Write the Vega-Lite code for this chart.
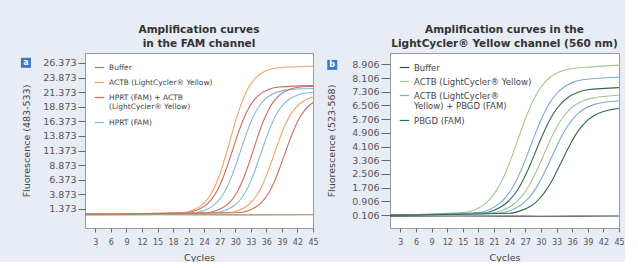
{
"$schema": "https://vega.github.io/schema/vega-lite/v6.json",
"background": "#e8ecf4",
"padding": {"left": 20, "top": 24, "right": 0, "bottom": 0},
"spacing": 6,
"resolve": {"scale": {"x": "independent", "y": "independent", "color": "independent"}, "legend": {"color": "independent"}},
"config": {
 "font": "DejaVu Sans",
 "view": {"fill": "white", "stroke": "#9a9a9a", "strokeWidth": 1},
 "axis": {"labelColor": "#555", "titleColor": "#444", "titleFontWeight": "normal", "tickColor": "#666", "domain": false, "grid": false, "tickCount": 50, "labelOverlap": false},
 "axisX": {"labelFontSize": 8, "tickSize": 4, "labelPadding": 6, "titleFontSize": 9.5, "titlePadding": 6, "labelFlush": false},
 "axisY": {"labelFontSize": 9.5, "tickSize": 7, "labelPadding": 2, "titleFontSize": 9.5},
 "title": {"fontSize": 10.5, "fontWeight": "bold", "color": "#333", "lineHeight": 14, "offset": 4, "anchor": "middle"},
 "legend": {"orient": "top-left", "title": null, "offset": 9, "padding": 0, "symbolType": "stroke", "symbolSize": 90, "symbolStrokeWidth": 1.2, "rowPadding": 6, "labelColor": "#444", "labelLimit": 300}
},
"datasets": {
 "fam": [
  {"c":1,"v":0.5,"s":"ACTB (LightCycler® Yellow)","id":"L1"},{"c":20,"v":0.78,"s":"ACTB (LightCycler® Yellow)","id":"L1"},{"c":22,"v":1.23,"s":"ACTB (LightCycler® Yellow)","id":"L1"},{"c":24,"v":2.42,"s":"ACTB (LightCycler® Yellow)","id":"L1"},{"c":25,"v":3.51,"s":"ACTB (LightCycler® Yellow)","id":"L1"},{"c":26,"v":5.1,"s":"ACTB (LightCycler® Yellow)","id":"L1"},{"c":27,"v":7.31,"s":"ACTB (LightCycler® Yellow)","id":"L1"},{"c":28,"v":10.06,"s":"ACTB (LightCycler® Yellow)","id":"L1"},{"c":29,"v":13.15,"s":"ACTB (LightCycler® Yellow)","id":"L1"},{"c":30,"v":16.24,"s":"ACTB (LightCycler® Yellow)","id":"L1"},{"c":31,"v":18.99,"s":"ACTB (LightCycler® Yellow)","id":"L1"},{"c":32,"v":21.2,"s":"ACTB (LightCycler® Yellow)","id":"L1"},{"c":33,"v":22.79,"s":"ACTB (LightCycler® Yellow)","id":"L1"},{"c":34,"v":23.88,"s":"ACTB (LightCycler® Yellow)","id":"L1"},{"c":36,"v":25.07,"s":"ACTB (LightCycler® Yellow)","id":"L1"},{"c":38,"v":25.52,"s":"ACTB (LightCycler® Yellow)","id":"L1"},{"c":45,"v":25.8,"s":"ACTB (LightCycler® Yellow)","id":"L1"},
  {"c":1,"v":0.5,"s":"HPRT (FAM) + ACTB (LightCycler® Yellow)","id":"L2"},{"c":20.5,"v":0.74,"s":"HPRT (FAM) + ACTB (LightCycler® Yellow)","id":"L2"},{"c":22.5,"v":1.14,"s":"HPRT (FAM) + ACTB (LightCycler® Yellow)","id":"L2"},{"c":24.5,"v":2.17,"s":"HPRT (FAM) + ACTB (LightCycler® Yellow)","id":"L2"},{"c":25.5,"v":3.12,"s":"HPRT (FAM) + ACTB (LightCycler® Yellow)","id":"L2"},{"c":26.5,"v":4.5,"s":"HPRT (FAM) + ACTB (LightCycler® Yellow)","id":"L2"},{"c":27.5,"v":6.42,"s":"HPRT (FAM) + ACTB (LightCycler® Yellow)","id":"L2"},{"c":28.5,"v":8.82,"s":"HPRT (FAM) + ACTB (LightCycler® Yellow)","id":"L2"},{"c":29.5,"v":11.5,"s":"HPRT (FAM) + ACTB (LightCycler® Yellow)","id":"L2"},{"c":30.5,"v":14.18,"s":"HPRT (FAM) + ACTB (LightCycler® Yellow)","id":"L2"},{"c":31.5,"v":16.58,"s":"HPRT (FAM) + ACTB (LightCycler® Yellow)","id":"L2"},{"c":32.5,"v":18.5,"s":"HPRT (FAM) + ACTB (LightCycler® Yellow)","id":"L2"},{"c":33.5,"v":19.88,"s":"HPRT (FAM) + ACTB (LightCycler® Yellow)","id":"L2"},{"c":34.5,"v":20.83,"s":"HPRT (FAM) + ACTB (LightCycler® Yellow)","id":"L2"},{"c":36.5,"v":21.86,"s":"HPRT (FAM) + ACTB (LightCycler® Yellow)","id":"L2"},{"c":38.5,"v":22.26,"s":"HPRT (FAM) + ACTB (LightCycler® Yellow)","id":"L2"},{"c":45,"v":22.5,"s":"HPRT (FAM) + ACTB (LightCycler® Yellow)","id":"L2"},
  {"c":1,"v":0.5,"s":"HPRT (FAM)","id":"L3"},{"c":22,"v":0.74,"s":"HPRT (FAM)","id":"L3"},{"c":24,"v":1.12,"s":"HPRT (FAM)","id":"L3"},{"c":26,"v":2.13,"s":"HPRT (FAM)","id":"L3"},{"c":27,"v":3.06,"s":"HPRT (FAM)","id":"L3"},{"c":28,"v":4.41,"s":"HPRT (FAM)","id":"L3"},{"c":29,"v":6.28,"s":"HPRT (FAM)","id":"L3"},{"c":30,"v":8.63,"s":"HPRT (FAM)","id":"L3"},{"c":31,"v":11.25,"s":"HPRT (FAM)","id":"L3"},{"c":32,"v":13.87,"s":"HPRT (FAM)","id":"L3"},{"c":33,"v":16.22,"s":"HPRT (FAM)","id":"L3"},{"c":34,"v":18.09,"s":"HPRT (FAM)","id":"L3"},{"c":35,"v":19.44,"s":"HPRT (FAM)","id":"L3"},{"c":36,"v":20.37,"s":"HPRT (FAM)","id":"L3"},{"c":38,"v":21.38,"s":"HPRT (FAM)","id":"L3"},{"c":40,"v":21.76,"s":"HPRT (FAM)","id":"L3"},{"c":45,"v":22.0,"s":"HPRT (FAM)","id":"L3"},
  {"c":1,"v":0.5,"s":"HPRT (FAM) + ACTB (LightCycler® Yellow)","id":"L4"},{"c":24.5,"v":0.74,"s":"HPRT (FAM) + ACTB (LightCycler® Yellow)","id":"L4"},{"c":26.5,"v":1.14,"s":"HPRT (FAM) + ACTB (LightCycler® Yellow)","id":"L4"},{"c":28.5,"v":2.17,"s":"HPRT (FAM) + ACTB (LightCycler® Yellow)","id":"L4"},{"c":29.5,"v":3.12,"s":"HPRT (FAM) + ACTB (LightCycler® Yellow)","id":"L4"},{"c":30.5,"v":4.5,"s":"HPRT (FAM) + ACTB (LightCycler® Yellow)","id":"L4"},{"c":31.5,"v":6.42,"s":"HPRT (FAM) + ACTB (LightCycler® Yellow)","id":"L4"},{"c":32.5,"v":8.82,"s":"HPRT (FAM) + ACTB (LightCycler® Yellow)","id":"L4"},{"c":33.5,"v":11.5,"s":"HPRT (FAM) + ACTB (LightCycler® Yellow)","id":"L4"},{"c":34.5,"v":14.18,"s":"HPRT (FAM) + ACTB (LightCycler® Yellow)","id":"L4"},{"c":35.5,"v":16.58,"s":"HPRT (FAM) + ACTB (LightCycler® Yellow)","id":"L4"},{"c":36.5,"v":18.5,"s":"HPRT (FAM) + ACTB (LightCycler® Yellow)","id":"L4"},{"c":37.5,"v":19.88,"s":"HPRT (FAM) + ACTB (LightCycler® Yellow)","id":"L4"},{"c":38.5,"v":20.83,"s":"HPRT (FAM) + ACTB (LightCycler® Yellow)","id":"L4"},{"c":40.5,"v":21.86,"s":"HPRT (FAM) + ACTB (LightCycler® Yellow)","id":"L4"},{"c":42.5,"v":22.26,"s":"HPRT (FAM) + ACTB (LightCycler® Yellow)","id":"L4"},{"c":45,"v":22.4,"s":"HPRT (FAM) + ACTB (LightCycler® Yellow)","id":"L4"},
  {"c":1,"v":0.5,"s":"HPRT (FAM)","id":"L5"},{"c":26,"v":0.73,"s":"HPRT (FAM)","id":"L5"},{"c":28,"v":1.11,"s":"HPRT (FAM)","id":"L5"},{"c":30,"v":2.1,"s":"HPRT (FAM)","id":"L5"},{"c":31,"v":3.0,"s":"HPRT (FAM)","id":"L5"},{"c":32,"v":4.32,"s":"HPRT (FAM)","id":"L5"},{"c":33,"v":6.15,"s":"HPRT (FAM)","id":"L5"},{"c":34,"v":8.44,"s":"HPRT (FAM)","id":"L5"},{"c":35,"v":11.0,"s":"HPRT (FAM)","id":"L5"},{"c":36,"v":13.56,"s":"HPRT (FAM)","id":"L5"},{"c":37,"v":15.85,"s":"HPRT (FAM)","id":"L5"},{"c":38,"v":17.68,"s":"HPRT (FAM)","id":"L5"},{"c":39,"v":19.0,"s":"HPRT (FAM)","id":"L5"},{"c":40,"v":19.9,"s":"HPRT (FAM)","id":"L5"},{"c":42,"v":20.89,"s":"HPRT (FAM)","id":"L5"},{"c":44,"v":21.27,"s":"HPRT (FAM)","id":"L5"},{"c":45,"v":21.35,"s":"HPRT (FAM)","id":"L5"},
  {"c":1,"v":0.5,"s":"ACTB (LightCycler® Yellow)","id":"L6"},{"c":28.5,"v":0.73,"s":"ACTB (LightCycler® Yellow)","id":"L6"},{"c":30.5,"v":1.09,"s":"ACTB (LightCycler® Yellow)","id":"L6"},{"c":32.5,"v":2.06,"s":"ACTB (LightCycler® Yellow)","id":"L6"},{"c":33.5,"v":2.94,"s":"ACTB (LightCycler® Yellow)","id":"L6"},{"c":34.5,"v":4.23,"s":"ACTB (LightCycler® Yellow)","id":"L6"},{"c":35.5,"v":6.01,"s":"ACTB (LightCycler® Yellow)","id":"L6"},{"c":36.5,"v":8.25,"s":"ACTB (LightCycler® Yellow)","id":"L6"},{"c":37.5,"v":10.75,"s":"ACTB (LightCycler® Yellow)","id":"L6"},{"c":38.5,"v":13.25,"s":"ACTB (LightCycler® Yellow)","id":"L6"},{"c":39.5,"v":15.49,"s":"ACTB (LightCycler® Yellow)","id":"L6"},{"c":40.5,"v":17.27,"s":"ACTB (LightCycler® Yellow)","id":"L6"},{"c":41.5,"v":18.56,"s":"ACTB (LightCycler® Yellow)","id":"L6"},{"c":42.5,"v":19.44,"s":"ACTB (LightCycler® Yellow)","id":"L6"},{"c":44.5,"v":20.41,"s":"ACTB (LightCycler® Yellow)","id":"L6"},{"c":45,"v":20.5,"s":"ACTB (LightCycler® Yellow)","id":"L6"},
  {"c":1,"v":0.5,"s":"HPRT (FAM) + ACTB (LightCycler® Yellow)","id":"L7"},{"c":30.5,"v":0.72,"s":"HPRT (FAM) + ACTB (LightCycler® Yellow)","id":"L7"},{"c":32.5,"v":1.09,"s":"HPRT (FAM) + ACTB (LightCycler® Yellow)","id":"L7"},{"c":34.5,"v":2.04,"s":"HPRT (FAM) + ACTB (LightCycler® Yellow)","id":"L7"},{"c":35.5,"v":2.92,"s":"HPRT (FAM) + ACTB (LightCycler® Yellow)","id":"L7"},{"c":36.5,"v":4.19,"s":"HPRT (FAM) + ACTB (LightCycler® Yellow)","id":"L7"},{"c":37.5,"v":5.96,"s":"HPRT (FAM) + ACTB (LightCycler® Yellow)","id":"L7"},{"c":38.5,"v":8.17,"s":"HPRT (FAM) + ACTB (LightCycler® Yellow)","id":"L7"},{"c":39.5,"v":10.65,"s":"HPRT (FAM) + ACTB (LightCycler® Yellow)","id":"L7"},{"c":40.5,"v":13.13,"s":"HPRT (FAM) + ACTB (LightCycler® Yellow)","id":"L7"},{"c":41.5,"v":15.34,"s":"HPRT (FAM) + ACTB (LightCycler® Yellow)","id":"L7"},{"c":42.5,"v":17.11,"s":"HPRT (FAM) + ACTB (LightCycler® Yellow)","id":"L7"},{"c":43.5,"v":18.38,"s":"HPRT (FAM) + ACTB (LightCycler® Yellow)","id":"L7"},{"c":44.5,"v":19.26,"s":"HPRT (FAM) + ACTB (LightCycler® Yellow)","id":"L7"},{"c":45,"v":19.6,"s":"HPRT (FAM) + ACTB (LightCycler® Yellow)","id":"L7"},
  {"c":1,"v":0.35,"s":"Buffer","id":"L8"},{"c":15,"v":0.38,"s":"Buffer","id":"L8"},{"c":30,"v":0.36,"s":"Buffer","id":"L8"},{"c":45,"v":0.38,"s":"Buffer","id":"L8"}
 ],
 "yel": [
  {"c":1,"v":0.1,"s":"ACTB (LightCycler® Yellow)","id":"R1"},{"c":15.5,"v":0.26,"s":"ACTB (LightCycler® Yellow)","id":"R1"},{"c":17.5,"v":0.44,"s":"ACTB (LightCycler® Yellow)","id":"R1"},{"c":19.5,"v":0.82,"s":"ACTB (LightCycler® Yellow)","id":"R1"},{"c":20.5,"v":1.14,"s":"ACTB (LightCycler® Yellow)","id":"R1"},{"c":21.5,"v":1.56,"s":"ACTB (LightCycler® Yellow)","id":"R1"},{"c":22.5,"v":2.11,"s":"ACTB (LightCycler® Yellow)","id":"R1"},{"c":23.5,"v":2.8,"s":"ACTB (LightCycler® Yellow)","id":"R1"},{"c":24.5,"v":3.59,"s":"ACTB (LightCycler® Yellow)","id":"R1"},{"c":25.5,"v":4.45,"s":"ACTB (LightCycler® Yellow)","id":"R1"},{"c":26.5,"v":5.31,"s":"ACTB (LightCycler® Yellow)","id":"R1"},{"c":27.5,"v":6.1,"s":"ACTB (LightCycler® Yellow)","id":"R1"},{"c":28.5,"v":6.79,"s":"ACTB (LightCycler® Yellow)","id":"R1"},{"c":29.5,"v":7.34,"s":"ACTB (LightCycler® Yellow)","id":"R1"},{"c":30.5,"v":7.77,"s":"ACTB (LightCycler® Yellow)","id":"R1"},{"c":31.5,"v":8.08,"s":"ACTB (LightCycler® Yellow)","id":"R1"},{"c":33.5,"v":8.46,"s":"ACTB (LightCycler® Yellow)","id":"R1"},{"c":35.5,"v":8.64,"s":"ACTB (LightCycler® Yellow)","id":"R1"},{"c":40,"v":8.76,"s":"ACTB (LightCycler® Yellow)","id":"R1"},{"c":45,"v":8.86,"s":"ACTB (LightCycler® Yellow)","id":"R1"},
  {"c":1,"v":0.1,"s":"ACTB (LightCycler® Yellow) + PBGD (FAM)","id":"R2"},{"c":18,"v":0.25,"s":"ACTB (LightCycler® Yellow) + PBGD (FAM)","id":"R2"},{"c":20,"v":0.41,"s":"ACTB (LightCycler® Yellow) + PBGD (FAM)","id":"R2"},{"c":22,"v":0.77,"s":"ACTB (LightCycler® Yellow) + PBGD (FAM)","id":"R2"},{"c":23,"v":1.06,"s":"ACTB (LightCycler® Yellow) + PBGD (FAM)","id":"R2"},{"c":24,"v":1.45,"s":"ACTB (LightCycler® Yellow) + PBGD (FAM)","id":"R2"},{"c":25,"v":1.96,"s":"ACTB (LightCycler® Yellow) + PBGD (FAM)","id":"R2"},{"c":26,"v":2.6,"s":"ACTB (LightCycler® Yellow) + PBGD (FAM)","id":"R2"},{"c":27,"v":3.33,"s":"ACTB (LightCycler® Yellow) + PBGD (FAM)","id":"R2"},{"c":28,"v":4.13,"s":"ACTB (LightCycler® Yellow) + PBGD (FAM)","id":"R2"},{"c":29,"v":4.92,"s":"ACTB (LightCycler® Yellow) + PBGD (FAM)","id":"R2"},{"c":30,"v":5.66,"s":"ACTB (LightCycler® Yellow) + PBGD (FAM)","id":"R2"},{"c":31,"v":6.29,"s":"ACTB (LightCycler® Yellow) + PBGD (FAM)","id":"R2"},{"c":32,"v":6.8,"s":"ACTB (LightCycler® Yellow) + PBGD (FAM)","id":"R2"},{"c":33,"v":7.19,"s":"ACTB (LightCycler® Yellow) + PBGD (FAM)","id":"R2"},{"c":34,"v":7.48,"s":"ACTB (LightCycler® Yellow) + PBGD (FAM)","id":"R2"},{"c":36,"v":7.84,"s":"ACTB (LightCycler® Yellow) + PBGD (FAM)","id":"R2"},{"c":38,"v":8.01,"s":"ACTB (LightCycler® Yellow) + PBGD (FAM)","id":"R2"},{"c":45,"v":8.15,"s":"ACTB (LightCycler® Yellow) + PBGD (FAM)","id":"R2"},
  {"c":1,"v":0.1,"s":"PBGD (FAM)","id":"R3"},{"c":19,"v":0.23,"s":"PBGD (FAM)","id":"R3"},{"c":21,"v":0.39,"s":"PBGD (FAM)","id":"R3"},{"c":23,"v":0.72,"s":"PBGD (FAM)","id":"R3"},{"c":24,"v":0.99,"s":"PBGD (FAM)","id":"R3"},{"c":25,"v":1.35,"s":"PBGD (FAM)","id":"R3"},{"c":26,"v":1.82,"s":"PBGD (FAM)","id":"R3"},{"c":27,"v":2.41,"s":"PBGD (FAM)","id":"R3"},{"c":28,"v":3.09,"s":"PBGD (FAM)","id":"R3"},{"c":29,"v":3.83,"s":"PBGD (FAM)","id":"R3"},{"c":30,"v":4.56,"s":"PBGD (FAM)","id":"R3"},{"c":31,"v":5.24,"s":"PBGD (FAM)","id":"R3"},{"c":32,"v":5.83,"s":"PBGD (FAM)","id":"R3"},{"c":33,"v":6.3,"s":"PBGD (FAM)","id":"R3"},{"c":34,"v":6.66,"s":"PBGD (FAM)","id":"R3"},{"c":35,"v":6.93,"s":"PBGD (FAM)","id":"R3"},{"c":37,"v":7.26,"s":"PBGD (FAM)","id":"R3"},{"c":39,"v":7.42,"s":"PBGD (FAM)","id":"R3"},{"c":45,"v":7.55,"s":"PBGD (FAM)","id":"R3"},
  {"c":1,"v":0.1,"s":"ACTB (LightCycler® Yellow)","id":"R4"},{"c":20.5,"v":0.23,"s":"ACTB (LightCycler® Yellow)","id":"R4"},{"c":22.5,"v":0.37,"s":"ACTB (LightCycler® Yellow)","id":"R4"},{"c":24.5,"v":0.68,"s":"ACTB (LightCycler® Yellow)","id":"R4"},{"c":25.5,"v":0.93,"s":"ACTB (LightCycler® Yellow)","id":"R4"},{"c":26.5,"v":1.28,"s":"ACTB (LightCycler® Yellow)","id":"R4"},{"c":27.5,"v":1.72,"s":"ACTB (LightCycler® Yellow)","id":"R4"},{"c":28.5,"v":2.27,"s":"ACTB (LightCycler® Yellow)","id":"R4"},{"c":29.5,"v":2.91,"s":"ACTB (LightCycler® Yellow)","id":"R4"},{"c":30.5,"v":3.6,"s":"ACTB (LightCycler® Yellow)","id":"R4"},{"c":31.5,"v":4.29,"s":"ACTB (LightCycler® Yellow)","id":"R4"},{"c":32.5,"v":4.93,"s":"ACTB (LightCycler® Yellow)","id":"R4"},{"c":33.5,"v":5.48,"s":"ACTB (LightCycler® Yellow)","id":"R4"},{"c":34.5,"v":5.92,"s":"ACTB (LightCycler® Yellow)","id":"R4"},{"c":35.5,"v":6.27,"s":"ACTB (LightCycler® Yellow)","id":"R4"},{"c":36.5,"v":6.52,"s":"ACTB (LightCycler® Yellow)","id":"R4"},{"c":38.5,"v":6.83,"s":"ACTB (LightCycler® Yellow)","id":"R4"},{"c":40.5,"v":6.97,"s":"ACTB (LightCycler® Yellow)","id":"R4"},{"c":45,"v":7.1,"s":"ACTB (LightCycler® Yellow)","id":"R4"},
  {"c":1,"v":0.1,"s":"ACTB (LightCycler® Yellow) + PBGD (FAM)","id":"R5"},{"c":22,"v":0.22,"s":"ACTB (LightCycler® Yellow) + PBGD (FAM)","id":"R5"},{"c":24,"v":0.36,"s":"ACTB (LightCycler® Yellow) + PBGD (FAM)","id":"R5"},{"c":26,"v":0.66,"s":"ACTB (LightCycler® Yellow) + PBGD (FAM)","id":"R5"},{"c":27,"v":0.9,"s":"ACTB (LightCycler® Yellow) + PBGD (FAM)","id":"R5"},{"c":28,"v":1.23,"s":"ACTB (LightCycler® Yellow) + PBGD (FAM)","id":"R5"},{"c":29,"v":1.65,"s":"ACTB (LightCycler® Yellow) + PBGD (FAM)","id":"R5"},{"c":30,"v":2.18,"s":"ACTB (LightCycler® Yellow) + PBGD (FAM)","id":"R5"},{"c":31,"v":2.79,"s":"ACTB (LightCycler® Yellow) + PBGD (FAM)","id":"R5"},{"c":32,"v":3.45,"s":"ACTB (LightCycler® Yellow) + PBGD (FAM)","id":"R5"},{"c":33,"v":4.11,"s":"ACTB (LightCycler® Yellow) + PBGD (FAM)","id":"R5"},{"c":34,"v":4.72,"s":"ACTB (LightCycler® Yellow) + PBGD (FAM)","id":"R5"},{"c":35,"v":5.25,"s":"ACTB (LightCycler® Yellow) + PBGD (FAM)","id":"R5"},{"c":36,"v":5.67,"s":"ACTB (LightCycler® Yellow) + PBGD (FAM)","id":"R5"},{"c":37,"v":6.0,"s":"ACTB (LightCycler® Yellow) + PBGD (FAM)","id":"R5"},{"c":38,"v":6.24,"s":"ACTB (LightCycler® Yellow) + PBGD (FAM)","id":"R5"},{"c":40,"v":6.54,"s":"ACTB (LightCycler® Yellow) + PBGD (FAM)","id":"R5"},{"c":42,"v":6.68,"s":"ACTB (LightCycler® Yellow) + PBGD (FAM)","id":"R5"},{"c":45,"v":6.78,"s":"ACTB (LightCycler® Yellow) + PBGD (FAM)","id":"R5"},
  {"c":1,"v":0.1,"s":"PBGD (FAM)","id":"R6"},{"c":24,"v":0.21,"s":"PBGD (FAM)","id":"R6"},{"c":26,"v":0.35,"s":"PBGD (FAM)","id":"R6"},{"c":28,"v":0.62,"s":"PBGD (FAM)","id":"R6"},{"c":29,"v":0.85,"s":"PBGD (FAM)","id":"R6"},{"c":30,"v":1.16,"s":"PBGD (FAM)","id":"R6"},{"c":31,"v":1.56,"s":"PBGD (FAM)","id":"R6"},{"c":32,"v":2.05,"s":"PBGD (FAM)","id":"R6"},{"c":33,"v":2.63,"s":"PBGD (FAM)","id":"R6"},{"c":34,"v":3.25,"s":"PBGD (FAM)","id":"R6"},{"c":35,"v":3.87,"s":"PBGD (FAM)","id":"R6"},{"c":36,"v":4.45,"s":"PBGD (FAM)","id":"R6"},{"c":37,"v":4.95,"s":"PBGD (FAM)","id":"R6"},{"c":38,"v":5.34,"s":"PBGD (FAM)","id":"R6"},{"c":39,"v":5.65,"s":"PBGD (FAM)","id":"R6"},{"c":40,"v":5.88,"s":"PBGD (FAM)","id":"R6"},{"c":42,"v":6.15,"s":"PBGD (FAM)","id":"R6"},{"c":44,"v":6.29,"s":"PBGD (FAM)","id":"R6"},{"c":45,"v":6.33,"s":"PBGD (FAM)","id":"R6"},
  {"c":1,"v":0.04,"s":"Buffer","id":"R7"},{"c":15,"v":0.05,"s":"Buffer","id":"R7"},{"c":30,"v":0.04,"s":"Buffer","id":"R7"},{"c":45,"v":0.05,"s":"Buffer","id":"R7"}
 ]
},
"hconcat": [
 {
  "width": 228, "height": 175,
  "title": {"text": ["Amplification curves", "in the FAM channel"]},
  "layer": [
   {
    "data": {"name": "fam"},
    "mark": {"type": "line", "interpolate": "monotone", "strokeWidth": 1.1, "clip": true},
    "encoding": {
     "x": {"field": "c", "type": "quantitative", "scale": {"domain": [1, 45], "nice": false, "zero": false},
           "axis": {"values": [3,6,9,12,15,18,21,24,27,30,33,36,39,42,45], "title": "Cycles"}},
     "y": {"field": "v", "type": "quantitative", "scale": {"domain": [-1.88, 28.08], "nice": false, "zero": false},
           "axis": {"values": [1.373,3.873,6.373,8.873,11.373,13.873,16.373,18.873,21.373,23.873,26.373], "format": ".3f", "title": "Fluorescence (483-533)", "minExtent": 46, "maxExtent": 46, "titlePadding": 8}},
     "color": {"field": "s", "type": "nominal",
       "scale": {"domain": ["Buffer", "ACTB (LightCycler® Yellow)", "HPRT (FAM) + ACTB (LightCycler® Yellow)", "HPRT (FAM)"], "range": ["#8b8d5c", "#f0a468", "#cd6b5c", "#86b8e0"]},
       "legend": {"labelFontSize": 7.5, "labelExpr": "datum.label == 'HPRT (FAM) + ACTB (LightCycler® Yellow)' ? ['HPRT (FAM) + ACTB', '(LightCycler® Yellow)'] : datum.label"}},
     "detail": {"field": "id"}
    }
   },
   {
    "data": {"values": [{"p": "a"}]},
    "mark": {"type": "square", "size": 100, "color": "#3a78c6", "opacity": 1, "filled": true},
    "encoding": {"x": {"datum": -10.4}, "y": {"datum": 26.4}}
   },
   {
    "data": {"values": [{"p": "a"}]},
    "mark": {"type": "text", "color": "white", "fontWeight": "bold", "fontSize": 8},
    "encoding": {"x": {"datum": -10.4}, "y": {"datum": 26.4}, "text": {"field": "p"}}
   }
  ]
 },
 {
  "width": 229, "height": 175,
  "title": {"text": ["Amplification curves in the", "LightCycler® Yellow channel (560 nm)"]},
  "layer": [
   {
    "data": {"name": "yel"},
    "mark": {"type": "line", "interpolate": "monotone", "strokeWidth": 1.1, "clip": true},
    "encoding": {
     "x": {"field": "c", "type": "quantitative", "scale": {"domain": [1, 45], "nice": false, "zero": false},
           "axis": {"values": [3,6,9,12,15,18,21,24,27,30,33,36,39,42,45], "title": "Cycles"}},
     "y": {"field": "v", "type": "quantitative", "scale": {"domain": [-0.65, 9.57], "nice": false, "zero": false},
           "axis": {"values": [0.106,0.906,1.706,2.506,3.306,4.106,4.906,5.706,6.506,7.306,8.106,8.906], "format": ".3f", "title": "Fluorescence (523-568)", "tickSize": 9, "minExtent": 44, "maxExtent": 44, "titlePadding": 10}},
     "color": {"field": "s", "type": "nominal",
       "scale": {"domain": ["Buffer", "ACTB (LightCycler® Yellow)", "ACTB (LightCycler® Yellow) + PBGD (FAM)", "PBGD (FAM)"], "range": ["#3d4a3c", "#a5c68e", "#74acd8", "#2f6b4d"]},
       "legend": {"labelFontSize": 8.5, "rowPadding": 4, "labelExpr": "datum.label == 'ACTB (LightCycler® Yellow) + PBGD (FAM)' ? ['ACTB (LightCycler®', 'Yellow) + PBGD (FAM)'] : datum.label"}},
     "detail": {"field": "id"}
    }
   },
   {
    "data": {"values": [{"p": "b"}]},
    "mark": {"type": "square", "size": 100, "color": "#3a78c6", "opacity": 1, "filled": true},
    "encoding": {"x": {"datum": -10.1}, "y": {"datum": 8.875}}
   },
   {
    "data": {"values": [{"p": "b"}]},
    "mark": {"type": "text", "color": "white", "fontWeight": "bold", "fontSize": 8},
    "encoding": {"x": {"datum": -10.1}, "y": {"datum": 8.875}, "text": {"field": "p"}}
   }
  ]
 }
]
}
